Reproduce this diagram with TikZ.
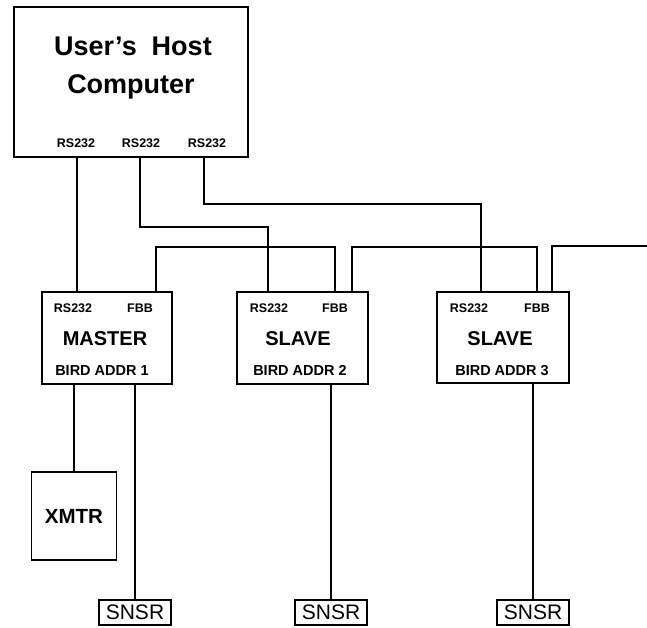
\documentclass[tikz,border=0pt]{standalone}
\usepackage{fontspec}
\setmainfont{Liberation Sans}
\usetikzlibrary{calc,positioning}

\begin{document}
\begin{tikzpicture}[x=1pt,y=-1pt,line width=1.8pt,
    unit/.style={draw,rectangle,inner sep=0pt,line width=1.8pt},
    port/.style={anchor=base,inner sep=0pt,font=\bfseries\fontsize{12.5}{12.5}\selectfont},
    title/.style={anchor=base,inner sep=0pt,font=\bfseries\fontsize{20}{20}\selectfont},
    addr/.style={anchor=base,inner sep=0pt,font=\bfseries\fontsize{14.5}{14.5}\selectfont},
    sensor/.style={draw,rectangle,line width=2pt,inner sep=0pt,minimum width=72pt,
      minimum height=25pt,font=\fontsize{21}{21}\selectfont}]
  \useasboundingbox (0,0) rectangle (647,627);

  % host
  \node [name=host,unit,minimum width=234pt,minimum height=150pt] at (131,82) {};
  \node [anchor=base,font=\bfseries\fontsize{27}{27}\selectfont] (hosttxt) at (133,55) {User's\ \ Host};
  \node [anchor=base,font=\bfseries\fontsize{27}{27}\selectfont] (comptxt) at (131,93) {Computer};
  \node [port] (hp1) at (76,147) {RS232};
  \node [port] (hp2) at (141,147) {RS232};
  \node [port] (hp3) at (207,147) {RS232};

  % birds
  \node [name=master,unit,minimum width=130pt,minimum height=92pt] at (107,338) {};
  \node [port] (m1) at (73,312) {RS232};
  \node [port] (m2) at (140,312) {FBB};
  \node [title] (mt) at (105,345) {MASTER};
  \node [addr] (ma) at (102,375) {BIRD ADDR 1};

  \node [name=slave1,unit,minimum width=131pt,minimum height=92pt] at (302.5,338) {};
  \node [port] (s1) at (269,312) {RS232};
  \node [port] (s2) at (335,312) {FBB};
  \node [title] (st) at (298,345) {SLAVE};
  \node [addr] (sa) at (300,375) {BIRD ADDR 2};

  \node [name=slave2,unit,minimum width=132pt,minimum height=91pt] at (503,337.5) {};
  \node [port] (t1) at (469,312) {RS232};
  \node [port] (t2) at (537,312) {FBB};
  \node [title] (tt) at (500,345) {SLAVE};
  \node [addr] (ta) at (502,375) {BIRD ADDR 3};

  \node [name=xmtr,unit,minimum width=85pt,minimum height=88pt,
      font=\bfseries\fontsize{20.5}{20.5}\selectfont] at (74,516) {XMTR};

  \node [name=snsr1,sensor] at (135,612.5) {SNSR};
  \node [name=snsr2,sensor] at (331,612.5) {SNSR};
  \node [name=snsr3,sensor] at (533,612.5) {SNSR};

  \coordinate (c1) at (77,0);
  \coordinate (c2) at (140,0);
  \coordinate (c3) at (268,0);
  \coordinate (c4) at (204,0);
  \coordinate (c5) at (481,0);
  \coordinate (f1) at (156,0);
  \coordinate (f2) at (335,0);
  \coordinate (f3) at (352,0);
  \coordinate (f4) at (537,0);
  \coordinate (f5) at (552,0);
  \coordinate (busend) at (647,246);

  % RS232 lines
  \draw (host.south -| c1) -- (master.north -| c1);
  \draw (host.south -| c2) -- ++(0,69) -| (slave1.north -| c3);
  \draw (host.south -| c4) -- ++(0,46) -| (slave2.north -| c5);

  % FBB bus
  \draw (master.north -| f1) -- ++(0,-44) -| (slave1.north -| f2);
  \draw (slave1.north -| f3) -- ++(0,-44) -| (slave2.north -| f4);
  \draw (slave2.north -| f5) |- (busend);

  % transmitter and sensors
  \draw (master.south -| xmtr.north) -- (xmtr.north);
  \draw (master.south -| snsr1.north) -- (snsr1.north);
  \draw (slave1.south -| snsr2.north) -- (snsr2.north);
  \draw (slave2.south -| snsr3.north) -- (snsr3.north);
\end{tikzpicture}
\end{document}
